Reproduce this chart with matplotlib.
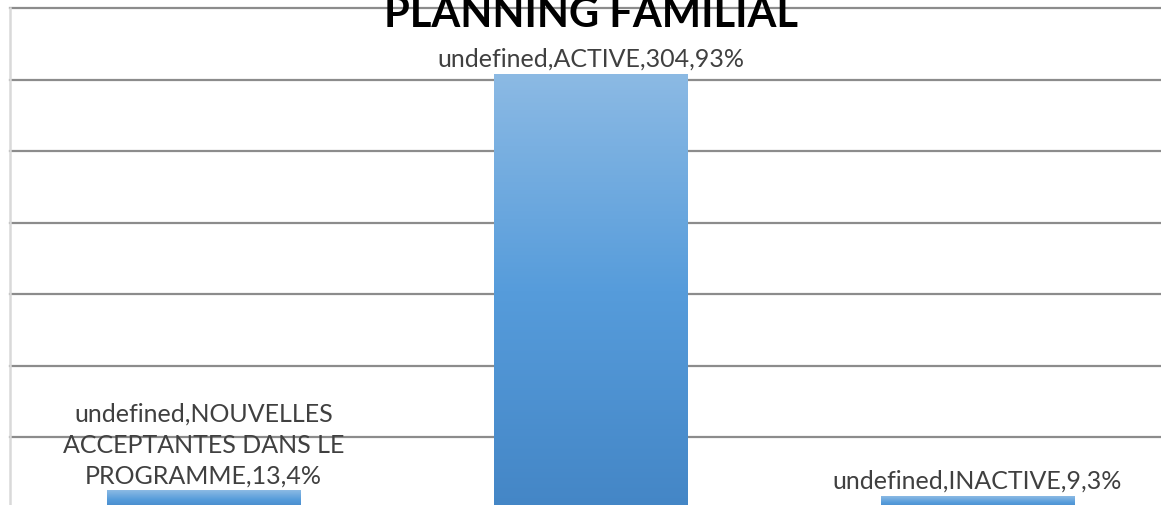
import numpy as np
import matplotlib.pyplot as plt
from matplotlib.colors import LinearSegmentedColormap

categories = ['NOUVELLES ACCEPTANTES DANS LE PROGRAMME', 'ACTIVE', 'INACTIVE']
counts = [13, 304, 9]
percents = [4, 93, 3]
labels = ['undefined,NOUVELLES\nACCEPTANTES DANS LE\nPROGRAMME,13,4%',
          'undefined,ACTIVE,304,93%',
          'undefined,INACTIVE,9,3%']

fig = plt.figure(figsize=(11.61, 5.06), dpi=100)
ax = fig.add_axes([10 / 1161, -4 / 506, 1.0, 501 / 506])

x = np.arange(len(categories))
ax.set_xlim(-0.5, 2.5)
ax.set_ylim(0, 350)
ax.set_yticks(np.arange(0, 351, 50))
ax.yaxis.grid(True, color='#8c8c8c', lw=1.6)
for gl in ax.get_ygridlines():
    gl.set_clip_on(False)
ax.set_axisbelow(True)
ax.tick_params(left=False, bottom=False, labelleft=False, labelbottom=False)
for s in ['top', 'right', 'bottom']:
    ax.spines[s].set_visible(False)
ax.spines['left'].set_color('#d9d9d9')
ax.spines['left'].set_linewidth(1.8)

# vertical gradient fill, light at the top of each bar
cmap = LinearSegmentedColormap.from_list('bar', ['#4486c6', '#569cdb', '#8cbae4'])
grad = np.linspace(0, 1, 256).reshape(-1, 1)

bars = ax.bar(x, counts, width=0.5, color='none', edgecolor='none', zorder=2)
for b in bars:
    x0, w, h = b.get_x(), b.get_width(), b.get_height()
    im = ax.imshow(grad, cmap=cmap, aspect='auto', origin='lower',
                   extent=[x0, x0 + w, 0, h], zorder=2)
    im.set_clip_path(b)

for b, lab in zip(bars, labels):
    ax.annotate(lab, (b.get_x() + b.get_width() / 2, b.get_height()),
                xytext=(0, 3), textcoords='offset points',
                ha='center', va='bottom', fontsize=18, color='#404040',
                family='Lato', linespacing=1.4, zorder=3)

fig.text(591 / 1161, (506 - 27) / 506, 'PLANNING FAMILIAL', ha='center',
         va='baseline', fontsize=30, fontweight='bold', family='Lato',
         color='#000000')

fig.savefig('out.png', dpi=100)
